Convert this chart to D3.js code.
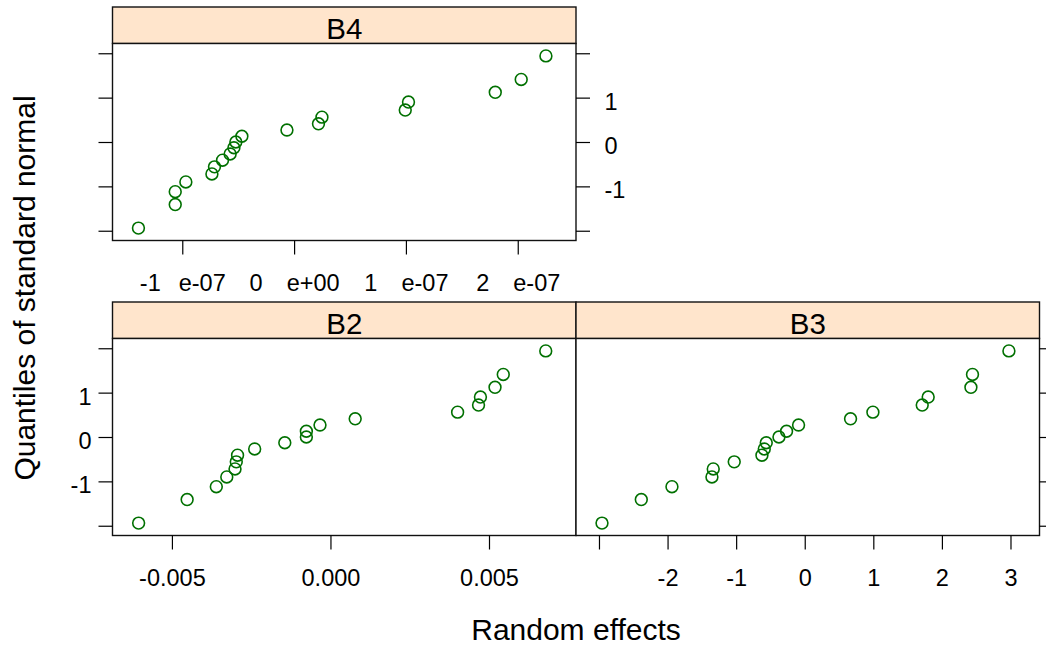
<!DOCTYPE html>
<html>
<head>
<meta charset="utf-8">
<script src="https://cdn.jsdelivr.net/npm/d3@7"></script>
<style>
  body { margin: 0; background: #fff; }
  svg { display: block; font-family: "Liberation Sans", Arial, sans-serif; }
</style>
</head>
<body>
<svg id="chart" width="1046" height="645"></svg>
<script>
// Theoretical standard-normal quantiles shared by every panel (19 levels each)
const normalQuantiles = [-1.94, -1.41, -1.12, -0.90, -0.72, -0.56, -0.41, -0.27, -0.13, 0.00,
                          0.13, 0.27, 0.41, 0.56, 0.72, 0.90, 1.12, 1.41, 1.94];

// Sorted random effects per grouping factor
const b4Effects = [-1.392e-7, -1.063e-7, -1.063e-7, -0.968e-7, -0.735e-7, -0.712e-7, -0.640e-7,
                   -0.572e-7, -0.538e-7, -0.521e-7, -0.467e-7, -0.064e-7, 0.218e-7, 0.249e-7,
                    0.994e-7, 1.023e-7, 1.799e-7, 2.031e-7, 2.252e-7];
const b2Effects = [-6.05e-3, -4.52e-3, -3.60e-3, -3.27e-3, -3.01e-3, -2.97e-3, -2.93e-3, -2.39e-3,
                   -1.44e-3, -0.76e-3, -0.76e-3, -0.33e-3, 0.78e-3, 4.01e-3, 4.67e-3, 4.73e-3,
                    5.19e-3, 5.45e-3, 6.79e-3];
const b3Effects = [-2.956, -2.383, -1.936, -1.353, -1.334, -1.028, -0.624, -0.590, -0.561, -0.376,
                   -0.265, -0.090, 0.668, 0.994, 1.713, 1.800, 2.423, 2.446, 2.977];

// Axis ticks and their labels
const b4Ticks = [-1e-7, 0, 1e-7, 2e-7];
const b4TickLabels = ["-1e-07", "0e+00", "1e-07", "2e-07"];
const b2Ticks = [-0.005, 0, 0.005];
const b2TickLabels = ["-0.005", "0.000", "0.005"];
const b3Ticks = [-3, -2, -1, 0, 1, 2, 3];
const b3TickLabels = ["", "-2", "-1", "0", "1", "2", "3"];
const yTicks = [-2, -1, 0, 1, 2];
const yTickLabels = ["", "-1", "0", "1", ""];

// Layout of the 2 x 2 lattice (top-right cell empty)
const LEFT = 112.5, COL_W = 463.5, STRIP_H = 36.5, PANEL_H = 197;
const ROW_TOP = [7, 302];
const STRIP_FILL = "#ffe5cc";
const POINT_COL = "#007000";

const panels = [
  { name: "B4", values: b4Effects, col: 0, row: 0, xDomain: [-1.624e-7, 2.521e-7],
    ticks: b4Ticks, labels: b4TickLabels, leftAxis: true, rightAxis: true,
    leftLabels: false, rightLabels: true, splitExp: true },
  { name: "B2", values: b2Effects, col: 0, row: 1, xDomain: [-6.874e-3, 7.744e-3],
    ticks: b2Ticks, labels: b2TickLabels, leftAxis: true, rightAxis: false,
    leftLabels: true, rightLabels: false, splitExp: false },
  { name: "B3", values: b3Effects, col: 1, row: 1, xDomain: [-3.335, 3.423],
    ticks: b3Ticks, labels: b3TickLabels, leftAxis: false, rightAxis: true,
    leftLabels: false, rightLabels: false, splitExp: false }
];

const svg = d3.select("#chart");
const y = d3.scaleLinear().domain([-2.22, 2.22]).range([PANEL_H, 0]);

panels.forEach(p => {
  const x0 = LEFT + p.col * COL_W;
  const stripTop = ROW_TOP[p.row];
  const panelTop = stripTop + STRIP_H;
  const x = d3.scaleLinear().domain(p.xDomain).range([0, COL_W]);

  // strip
  svg.append("rect")
    .attr("x", x0).attr("y", stripTop).attr("width", COL_W).attr("height", STRIP_H)
    .attr("fill", STRIP_FILL).attr("stroke", "#111").attr("stroke-width", 1.4);
  svg.append("text")
    .attr("x", x0 + COL_W / 2).attr("y", stripTop + STRIP_H - 4.3)
    .attr("text-anchor", "middle").attr("font-size", 29.5).attr("fill", "#000")
    .text(p.name);

  const g = svg.append("g").attr("transform", `translate(${x0},${panelTop})`);

  // panel frame
  g.append("rect")
    .attr("width", COL_W).attr("height", PANEL_H)
    .attr("fill", "#fff").attr("stroke", "#111").attr("stroke-width", 1.4);

  // bottom axis
  const xAxis = g.append("g").attr("transform", `translate(0,${PANEL_H})`)
    .call(d3.axisBottom(x).tickValues(p.ticks).tickSize(14).tickSizeOuter(0)
      .tickFormat((d, i) => p.labels[i]));
  xAxis.select(".domain").remove();
  xAxis.selectAll(".tick line").attr("stroke", "#000").attr("stroke-width", 1.2);
  xAxis.selectAll(".tick text")
    .attr("y", 50).attr("dy", null).attr("font-size", 23.5).attr("fill", "#000")
    .attr("font-family", "Liberation Sans, Arial, sans-serif");
  if (p.splitExp) {
    xAxis.selectAll(".tick text").each(function (d, i) {
      const parts = p.labels[i].split("e");
      const t = d3.select(this).text(null);
      t.append("tspan").text(parts[0]);
      t.append("tspan").attr("dx", parts[0].startsWith("-") ? 18 : 24).text("e" + parts[1]);
    });
  }

  // left axis
  if (p.leftAxis) {
    const yl = g.append("g")
      .call(d3.axisLeft(y).tickValues(yTicks).tickSize(14).tickSizeOuter(0)
        .tickFormat((d, i) => p.leftLabels ? yTickLabels[i] : ""));
    yl.select(".domain").remove();
    yl.selectAll(".tick line").attr("stroke", "#000").attr("stroke-width", 1.2);
    yl.selectAll(".tick text").attr("x", -21).attr("dy", 11.5)
      .attr("font-size", 23.5).attr("fill", "#000")
      .attr("font-family", "Liberation Sans, Arial, sans-serif");
  }
  // right axis
  if (p.rightAxis) {
    const yr = g.append("g").attr("transform", `translate(${COL_W},0)`)
      .call(d3.axisRight(y).tickValues(yTicks).tickSize(14).tickSizeOuter(0)
        .tickFormat((d, i) => p.rightLabels ? yTickLabels[i] : ""));
    yr.select(".domain").remove();
    yr.selectAll(".tick line").attr("stroke", "#000").attr("stroke-width", 1.2);
    yr.selectAll(".tick text").attr("x", 28.5).attr("dy", 11.5)
      .attr("font-size", 23.5).attr("fill", "#000")
      .attr("font-family", "Liberation Sans, Arial, sans-serif");
  }

  // points
  g.selectAll("circle.pt").data(p.values).join("circle")
    .attr("class", "pt")
    .attr("cx", d => x(d))
    .attr("cy", (d, i) => y(normalQuantiles[i]))
    .attr("r", 5.9)
    .attr("fill", "none").attr("stroke", POINT_COL).attr("stroke-width", 1.6);
});

// axis titles
svg.append("text")
  .attr("x", LEFT + COL_W).attr("y", 640)
  .attr("text-anchor", "middle").attr("font-size", 30).attr("fill", "#000")
  .text("Random effects");
svg.append("text")
  .attr("transform", "translate(35,288) rotate(-90)")
  .attr("text-anchor", "middle").attr("font-size", 30).attr("fill", "#000")
  .text("Quantiles of standard normal");
</script>
</body>
</html>
